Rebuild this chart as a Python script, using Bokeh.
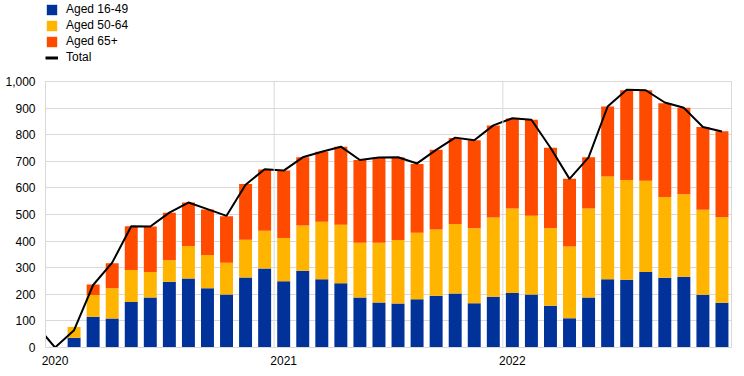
from bokeh.plotting import figure
from bokeh.layouts import column
from bokeh.models import ColumnDataSource, Legend, LegendItem, Span, FixedTicker, NumeralTickFormatter
from bokeh.embed import file_html
from bokeh.resources import INLINE
import numpy as np

# Months: index 0 = Jan 2020; bars Feb 2020 .. Dec 2022
bar_months = list(range(1, 36))
aged_16_49 = [37, 116, 109, 171, 188, 247, 259, 223, 199, 263, 297, 249, 289, 257, 242, 188, 169, 165,
              181, 195, 203, 166, 191, 205, 199, 157, 110, 188, 257, 255, 284, 262, 266, 198, 168]
aged_50_64 = [40, 81, 114, 120, 96, 81, 123, 125, 120, 142, 142, 163, 170, 216, 219, 206, 225, 239,
              250, 249, 261, 282, 298, 318, 296, 291, 270, 335, 386, 375, 343, 304, 310, 320, 322]
aged_65 = [-3, 40, 94, 165, 171, 179, 163, 171, 174, 210, 230, 253, 256, 263, 294, 311, 321, 311,
           259, 299, 324, 331, 346, 338, 361, 303, 254, 192, 263, 337, 340, 352, 325, 311, 323]
total_months = list(range(-1, 36))
total = [85, 0, 65, 235, 319, 456, 455, 507, 545, 520, 495, 612, 670, 665, 715, 736, 755, 705, 714,
         715, 692, 743, 789, 779, 835, 862, 856, 751, 634, 715, 906, 969, 967, 921, 901, 829, 812]
year_ticks = [0, 12, 24]
year_labels = ["2020", "2021", "2022"]
year_breaks = [11.5, 23.5]

series = [("Aged 16-49", aged_16_49, "#003299"),
          ("Aged 50-64", aged_50_64, "#FFB400"),
          ("Aged 65+", aged_65, "#FF4B00")]

FONT = "Liberation Sans"
LEG_H = 74

# ---- legend strip (dummy renderers outside the visible range only feed the legend) ----
lg = figure(width=744, height=LEG_H, output_backend="svg", toolbar_location=None,
            x_range=(0, 1), y_range=(0, 1),
            min_border_left=0, min_border_right=0, min_border_top=0, min_border_bottom=0)
lg.axis.visible = False
lg.grid.visible = False
lg.outline_line_color = None
items = []
for name, vals, col in series:
    r = lg.vbar(x=[-5], top=[-5], width=0.5, fill_color=col, line_color=None)
    items.append(LegendItem(label=name, renderers=[r]))
rl = lg.line(x=[-5, -4], y=[-5, -5], line_color="black", line_width=3)
items.append(LegendItem(label="Total", renderers=[rl]))
legend = Legend(items=items, location=(0, 10), orientation="vertical",
                glyph_width=13, glyph_height=13, label_height=10, spacing=2,
                label_standoff=8, padding=0, margin=0,
                border_line_color=None, background_fill_alpha=0,
                label_text_font=FONT, label_text_font_size="12px", label_text_color="black")
lg.add_layout(legend, "center")

# ---- main chart ----
p = figure(width=744, height=376 - LEG_H, output_backend="svg", toolbar_location=None,
           x_range=(-0.5, 35.5), y_range=(0, 1000),
           min_border_left=45, min_border_right=13, min_border_top=7, min_border_bottom=29)
p.outline_line_color = "#d9d9d9"
p.background_fill_color = "white"
p.border_fill_color = "white"

pos = np.zeros(len(bar_months))
neg = np.zeros(len(bar_months))
for name, vals, col in series:
    v = np.array(vals, dtype=float)
    bottom = np.where(v >= 0, pos, neg + v)
    top = np.where(v >= 0, pos + v, neg)
    pos = np.where(v >= 0, pos + v, pos)
    neg = np.where(v < 0, neg + v, neg)
    src = ColumnDataSource(dict(x=bar_months, top=top, bottom=bottom))
    p.vbar(x="x", top="top", bottom="bottom", width=0.68, source=src,
           fill_color=col, line_color=None)

for b in year_breaks:
    p.add_layout(Span(location=b, dimension="height", line_color="#d9d9d9", line_width=1))

lsrc = ColumnDataSource(dict(x=total_months, y=total))
p.line(x="x", y="y", source=lsrc, line_color="black", line_width=2)

p.xgrid.visible = False
p.ygrid.grid_line_color = "#d9d9d9"
p.ygrid.grid_line_width = 1

p.yaxis.ticker = FixedTicker(ticks=list(range(0, 1001, 100)))
p.yaxis.formatter = NumeralTickFormatter(format="0,0")
p.xaxis.ticker = FixedTicker(ticks=year_ticks)
p.xaxis.major_label_overrides = {t: l for t, l in zip(year_ticks, year_labels)}

for ax in (p.xaxis, p.yaxis):
    ax.axis_line_color = "#d9d9d9"
    ax.major_tick_line_color = None
    ax.minor_tick_line_color = None
    ax.major_tick_out = 0
    ax.major_tick_in = 0
    ax.major_label_text_font = FONT
    ax.major_label_text_font_size = "12px"
    ax.major_label_text_color = "black"
p.yaxis.major_label_standoff = 10
p.xaxis.major_label_standoff = 8

layout = column(lg, p, spacing=0)
open("out.html", "w").write(file_html(layout, INLINE))
